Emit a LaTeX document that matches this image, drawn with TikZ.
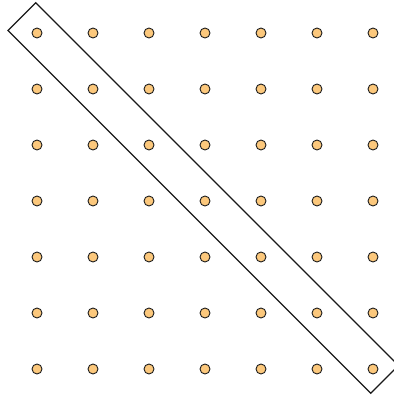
\documentclass[tikz,border=0pt]{standalone}
\definecolor{dotfill}{RGB}{252,200,124}
\definecolor{dotline}{RGB}{30,30,30}
\tikzset{
  gdot/.style={circle,draw=dotline,fill=dotfill,line width=0.9pt,minimum size=10pt,inner sep=0pt},
  band/.style={draw=black!90,line width=1.1pt,line join=miter}
}
\begin{document}
\begin{tikzpicture}[x=1pt,y=-1pt]
\useasboundingbox (0,0) rectangle (394,400);
\clip (0,0) rectangle (394,400);
\foreach \i in {0,...,6}{
  \foreach \j in {0,...,6}{
    \node[gdot] (d-\i-\j) at ({37+56*\i},{33+56*\j}) {};
  }
}
\draw[band] (35.75,2.75) -- (8,30.5) -- (370.75,393.25) -- (398.5,365.5) -- cycle;
\end{tikzpicture}
\end{document}
